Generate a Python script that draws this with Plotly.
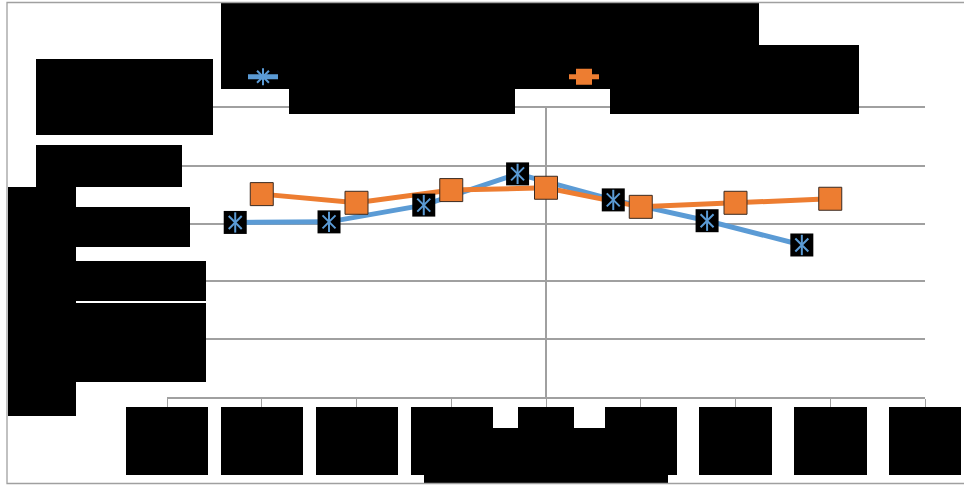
import plotly.graph_objects as go

# ---------------- data ----------------
x_ticks = [-4, -3, -2, -1, 0, 1, 2, 3, 4]
x_tick_labels = ["-4", "-3", "-2", "-1", "0", "1", "2", "3", "4"]
y_ticks = [1, 2, 3, 4, 5]
y_tick_labels = ["1", "2", "3", "4", "5"]

series_a_name = "Series 1"
series_a_x = [-3.28, -2.29, -1.29, -0.30, 0.71, 1.70, 2.70]
series_a_y = [3.02, 3.03, 3.32, 3.86, 3.41, 3.05, 2.63]

series_b_name = "Series 2"
series_b_x = [-3, -2, -1, 0, 1, 2, 3]
series_b_y = [3.51, 3.36, 3.58, 3.62, 3.29, 3.36, 3.43]

# ---------------- styles ----------------
BLUE = "#5B9BD5"
ORANGE = "#ED7D31"
GRID = "#A0A0A0"
W, H = 964, 485
L, R, T, B = 167, 39, 108, 88
PW, PH = W - L - R, H - T - B

# redaction boxes of the reference image (pixel rectangles: left, top, right, bottom)
redaction_boxes = [
    (221, 3, 759, 89), (289, 89, 515, 114), (610, 45, 859, 114),
    (36, 59, 213, 135), (36, 145, 182, 187), (8, 187, 76, 416),
    (76, 207, 190, 247), (76, 261, 206, 301), (76, 303, 206, 382),
    (126, 407, 208, 475), (221, 407, 303, 475), (316, 407, 398, 475),
    (411, 407, 493, 475), (518, 407, 574, 428), (605, 407, 677, 475),
    (699, 407, 772, 475), (794, 407, 867, 475), (889, 407, 961, 475),
    (411, 428, 677, 475), (424, 475, 668, 483),
]


def px_x(p):
    return (p - L) / PW


def px_y(p):
    return (H - B - p) / PH


fig = go.Figure()

# lines first (Excel draws all lines, then markers)
fig.add_trace(go.Scatter(x=series_a_x, y=series_a_y, mode="lines",
                         line=dict(color=BLUE, width=5), showlegend=False,
                         hoverinfo="skip"))
fig.add_trace(go.Scatter(x=series_b_x, y=series_b_y, mode="lines",
                         line=dict(color=ORANGE, width=5), showlegend=False,
                         hoverinfo="skip"))
# series A markers: black square with blue star
fig.add_trace(go.Scatter(x=series_a_x, y=series_a_y, mode="markers",
                         marker=dict(symbol="square", size=23, color="black",
                                     line=dict(width=0)),
                         showlegend=False, name=series_a_name))
fig.add_trace(go.Scatter(x=series_a_x, y=series_a_y, mode="markers",
                         marker=dict(symbol="x-thin-open", size=13, color=BLUE,
                                     line=dict(color=BLUE, width=2)),
                         showlegend=False, hoverinfo="skip"))
fig.add_trace(go.Scatter(x=series_a_x, y=series_a_y, mode="markers",
                         marker=dict(symbol="line-ns-open", size=14.5, color=BLUE,
                                     line=dict(color=BLUE, width=2)),
                         showlegend=False, hoverinfo="skip"))
# series B markers
fig.add_trace(go.Scatter(x=series_b_x, y=series_b_y, mode="markers",
                         marker=dict(symbol="square", size=23, color=ORANGE,
                                     line=dict(color="#3a2a20", width=1)),
                         showlegend=False, name=series_b_name))

# legend entries
fig.add_trace(go.Scatter(x=[None], y=[None], mode="lines+markers", name=series_a_name,
                         line=dict(color=BLUE, width=5),
                         marker=dict(symbol="asterisk-open", size=14, color=BLUE,
                                     line=dict(color=BLUE, width=2))))
fig.add_trace(go.Scatter(x=[None], y=[None], mode="lines+markers", name=series_b_name,
                         line=dict(color=ORANGE, width=5),
                         marker=dict(symbol="square", size=16, color=ORANGE)))

shapes = []
for (x0, y0, x1, y1) in redaction_boxes:
    shapes.append(dict(type="rect", xref="paper", yref="paper",
                       x0=px_x(x0), x1=px_x(x1), y0=px_y(y1), y1=px_y(y0),
                       fillcolor="black", line=dict(width=0), layer="above"))
# chart area border (right edge lies just outside the picture)
shapes.append(dict(type="rect", xref="paper", yref="paper",
                   x0=px_x(7), x1=px_x(966), y0=px_y(483.5), y1=px_y(2.5),
                   line=dict(color="#A0A0A0", width=1.3), fillcolor="rgba(0,0,0,0)",
                   layer="above"))

fig.update_layout(
    width=W, height=H,
    margin=dict(l=L, r=R, t=T, b=B, pad=0),
    paper_bgcolor="white", plot_bgcolor="white",
    font=dict(family="Liberation Sans, Arial, sans-serif", size=14, color="#595959"),
    shapes=shapes,
    showlegend=True,
    legend=dict(orientation="h", x=px_x(243), xanchor="left",
                y=px_y(77), yanchor="middle",
                entrywidth=276, entrywidthmode="pixels",
                bgcolor="rgba(0,0,0,0)", font=dict(color="black", size=15),
                itemclick=False, itemdoubleclick=False),
    xaxis=dict(range=[-4, 4], tickvals=x_ticks, ticktext=x_tick_labels,
               showgrid=False, zeroline=True, zerolinecolor=GRID, zerolinewidth=1.8,
               showline=True, mirror=True, linecolor=GRID, linewidth=1.5,
               ticks="outside", ticklen=10, tickcolor=GRID, tickwidth=1.3,
               fixedrange=True),
    yaxis=dict(range=[0, 5], tickvals=y_ticks, ticktext=y_tick_labels,
               showgrid=True, gridcolor=GRID, gridwidth=1.5,
               zeroline=False, showline=False, ticks="",
               fixedrange=True),
)

fig.write_html("out.html", config={"displayModeBar": False},
               post_script="document.body.style.margin='0';document.body.style.overflow='hidden';")
